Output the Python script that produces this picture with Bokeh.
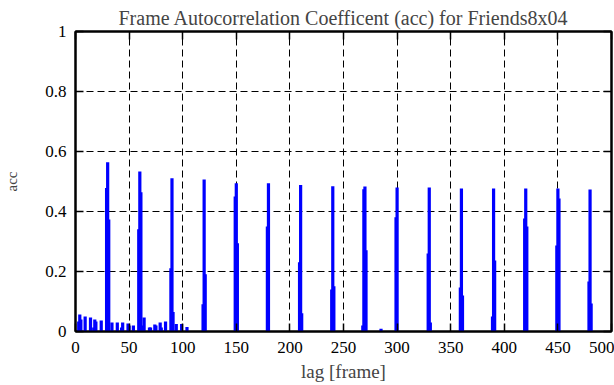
from bokeh.plotting import figure
from bokeh.models import Range1d, LinearAxis, FixedTicker, ColumnDataSource
from bokeh.embed import file_html
from bokeh.resources import INLINE

# ---- data ----
lags = [3, 4, 5, 9, 14, 17, 18, 19, 24,
        29, 30, 31, 34, 39, 43, 44, 49, 50, 54,
        59, 60, 61, 63, 64, 69, 70, 74, 75, 79, 80, 84,
        89, 90, 91, 94, 99, 104,
        119, 120, 121,
        149, 150, 151,
        179, 180,
        209, 210, 211,
        239, 240, 241,
        268, 269, 270, 271, 285,
        299, 300,
        329, 330, 331,
        359, 360, 361,
        389, 390, 391,
        419, 420, 421,
        449, 450, 451,
        479, 480, 481]
acc = [0.033, 0.057, 0.040, 0.050, 0.047, 0.013, 0.040, 0.033, 0.037,
       0.478, 0.564, 0.373, 0.030, 0.030, 0.013, 0.030, 0.027, 0.020, 0.020,
       0.341, 0.533, 0.464, 0.020, 0.047, 0.013, 0.013, 0.023, 0.020, 0.030, 0.013, 0.033,
       0.211, 0.511, 0.065, 0.025, 0.025, 0.015,
       0.091, 0.507, 0.191,
       0.450, 0.494, 0.294,
       0.350, 0.494,
       0.231, 0.488, 0.061,
       0.140, 0.484, 0.151,
       0.020, 0.474, 0.483, 0.271, 0.009,
       0.381, 0.480,
       0.260, 0.480, 0.030,
       0.147, 0.477, 0.120,
       0.050, 0.477, 0.237,
       0.377, 0.477, 0.350,
       0.287, 0.477, 0.443,
       0.167, 0.473, 0.093]

xticks = [0, 50, 100, 150, 200, 250, 300, 350, 400, 450, 500]
yticks = [0, 0.2, 0.4, 0.6, 0.8, 1]
ytick_labels = ["0", "0.2", "0.4", "0.6", "0.8", "1"]

title = "Frame Autocorrelation Coefficent (acc) for Friends8x04"
xlabel = "lag [frame]"
ylabel = "acc"

FONT = "Liberation Serif"

p = figure(width=614, height=385, output_backend="svg", toolbar_location=None,
           x_range=Range1d(0, 500), y_range=Range1d(0, 1),
           min_border_left=75, min_border_right=3, min_border_top=31, min_border_bottom=54)

p.title.text = title
p.title.align = "center"
p.title.text_font = FONT
p.title.text_font_size = "20px"
p.title.text_font_style = "normal"
p.title.standoff = 6

src = ColumnDataSource(dict(lag=lags, acc=acc))
p.vbar(x="lag", top="acc", bottom=0, width=3, source=src,
       fill_color="#0000ff", line_color=None)

p.outline_line_color = "black"
p.outline_line_width = 2
p.outline_line_alpha = 1

xt = FixedTicker(ticks=xticks)
yt = FixedTicker(ticks=yticks)

def style_axis(ax, ticker, labels=True):
    ax.ticker = ticker
    ax.axis_line_color = "black"
    ax.axis_line_width = 2
    ax.major_tick_line_color = "black"
    ax.major_tick_line_width = 1.5
    ax.major_tick_in = 8
    ax.major_tick_out = 0
    ax.minor_tick_in = 0
    ax.minor_tick_out = 0
    ax.major_label_text_font = FONT
    ax.major_label_text_color = "black"
    ax.major_label_text_font_size = "17px"
    if not labels:
        ax.major_label_overrides = {t: "" for t in ticker.ticks}
        ax.major_label_text_font_size = "1px"
        ax.major_label_standoff = 0

xa = p.xaxis[0]
style_axis(xa, xt)
xa.major_label_standoff = 10
xa.axis_label = xlabel
xa.axis_label_text_font = FONT
xa.axis_label_text_font_size = "19px"
xa.axis_label_text_font_style = "normal"
xa.axis_label_standoff = 5

ya = p.yaxis[0]
style_axis(ya, yt)
ya.major_label_standoff = 9
ya.major_label_overrides = dict(zip(yticks, ytick_labels))
ya.axis_label = ylabel
ya.axis_label_text_font = FONT
ya.axis_label_text_font_size = "15px"
ya.axis_label_text_font_style = "normal"
ya.axis_label_standoff = 22

top_ax = LinearAxis()
style_axis(top_ax, xt, labels=False)
p.add_layout(top_ax, "above")
right_ax = LinearAxis()
style_axis(right_ax, yt, labels=False)
p.add_layout(right_ax, "right")

p.xgrid.ticker = xt
p.ygrid.ticker = yt
for g in (p.xgrid[0], p.ygrid[0]):
    g.grid_line_color = "black"
    g.grid_line_width = 1
    g.grid_line_dash = "7 4"
    g.grid_line_alpha = 1

p.background_fill_color = "white"
p.border_fill_color = "white"

open("out.html", "w").write(file_html(p, INLINE))
